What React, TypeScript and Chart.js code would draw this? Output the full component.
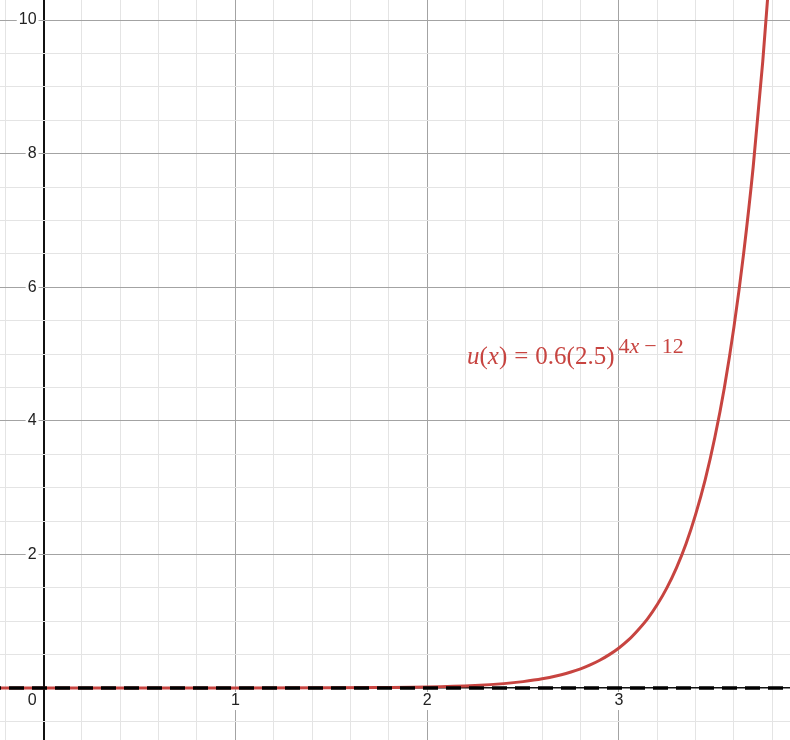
import { useEffect, useRef } from "react";
import { Chart, registerables } from "chart.js";

Chart.register(...registerables);

// visible window of the graph
const X_MIN = -0.227;
const X_MAX = 3.892;
const Y_MIN = -0.778;
const Y_MAX = 10.3;

// u(x)
const curveX = [-0.3, 0.5, 1, 1.5, 1.75, 2, 2.25, 2.4, 2.5, 2.6, 2.7, 2.75, 2.8, 2.85, 2.9, 2.95, 3, 3.05, 3.1, 3.15, 3.2, 3.25, 3.3, 3.35, 3.4, 3.45, 3.5, 3.55, 3.6, 3.65, 3.7, 3.75, 3.8];
const curveY = [0, 0, 0, 0.004, 0.008, 0.015, 0.038, 0.066, 0.096, 0.138, 0.2, 0.24, 0.288, 0.346, 0.416, 0.5, 0.6, 0.72, 0.87, 1.04, 1.25, 1.5, 1.8, 2.16, 2.6, 3.12, 3.75, 4.5, 5.41, 6.5, 7.8, 9.38, 11.26];

// dashed horizontal asymptote
const asymptoteX = [-0.3, 4];
const asymptoteY = [0, 0];

const xTickValues = [1, 2, 3];
const yTickValues = [2, 4, 6, 8, 10];

const RED = "#c74440";
const isMultiple = (v: number, m: number) => Math.abs(v / m - Math.round(v / m)) < 1e-6;

const labelPlugin = {
  id: "desmosLabels",
  afterDatasetsDraw(chart: any) {
    const { ctx } = chart;
    const xs = chart.scales.x;
    const ys = chart.scales.y;
    const x0 = xs.getPixelForValue(0);
    const y0 = ys.getPixelForValue(0);

    ctx.save();
    ctx.font = "16px 'Liberation Sans', Arial, sans-serif";
    ctx.textBaseline = "middle";
    const box = (cx: number, cy: number, w: number) => {
      ctx.fillStyle = "#fff";
      ctx.fillRect(cx - w / 2 - 2, cy - 9, w + 4, 18);
    };

    ctx.textAlign = "center";
    for (const v of xTickValues) {
      const px = xs.getPixelForValue(v);
      const t = String(v);
      const w = ctx.measureText(t).width;
      box(px, y0 + 13, w);
      ctx.fillStyle = "#222";
      ctx.fillText(t, px, y0 + 13);
    }

    ctx.textAlign = "right";
    for (const v of yTickValues) {
      const py = ys.getPixelForValue(v);
      const t = String(v);
      const w = ctx.measureText(t).width;
      box(x0 - 7 - w / 2, py, w);
      ctx.fillStyle = "#222";
      ctx.fillText(t, x0 - 7, py);
    }
    const w0 = ctx.measureText("0").width;
    box(x0 - 7 - w0 / 2, y0 + 13, w0);
    ctx.fillStyle = "#222";
    ctx.fillText("0", x0 - 7, y0 + 13);

    // equation label
    ctx.fillStyle = RED;
    ctx.textAlign = "left";
    ctx.textBaseline = "alphabetic";
    const main = "25px 'Liberation Serif', 'Times New Roman', serif";
    const ital = "italic 25px 'Liberation Serif', 'Times New Roman', serif";
    const sup = "22px 'Liberation Serif', 'Times New Roman', serif";
    const supI = "italic 22px 'Liberation Serif', 'Times New Roman', serif";
    let cx = 467;
    const base = 364;
    const put = (t: string, font: string, yb: number, gap = 0) => {
      ctx.font = font;
      ctx.fillText(t, cx, yb);
      cx += ctx.measureText(t).width + gap;
    };
    put("u", ital, base);
    put("(", main, base);
    put("x", ital, base);
    put(")", main, base, 7);
    put("=", main, base, 7);
    put("0.6(2.5)", main, base, 4);
    const sb = 353;
    put("4", sup, sb);
    put("x", supI, sb, 5);
    put("\u2212", sup, sb, 5);
    put("12", sup, sb);
    ctx.restore();
  },
};

export default function App() {
  const canvasRef = useRef<HTMLCanvasElement>(null);

  useEffect(() => {
    document.body.style.margin = "0";
    if (!canvasRef.current) return;
    const chart = new Chart(canvasRef.current, {
      type: "line",
      data: {
        datasets: [
          {
            label: "asymptote",
            data: asymptoteX.map((x, i) => ({ x, y: asymptoteY[i] })),
            borderColor: "#000",
            borderWidth: 3.5,
            borderDash: [15, 8],
            pointRadius: 0,
          },
          {
            label: "u(x)",
            data: curveX.map((x, i) => ({ x, y: curveY[i] })),
            borderColor: RED,
            borderWidth: 3,
            pointRadius: 0,
            cubicInterpolationMode: "monotone",
          },
        ],
      },
      options: {
        animation: false,
        responsive: true,
        maintainAspectRatio: false,
        layout: { padding: 0 },
        plugins: { legend: { display: false }, tooltip: { enabled: false } },
        scales: {
          x: {
            type: "linear",
            min: X_MIN,
            max: X_MAX,
            border: { display: false },
            ticks: { display: false, stepSize: 0.2, includeBounds: false, autoSkip: false, maxTicksLimit: 1000 },
            grid: {
              drawTicks: false,
              color: (c: any) => (isMultiple(c.tick.value, 1) ? (Math.abs(c.tick.value) < 1e-6 ? "#111" : "#a3a3a3") : "#e4e4e4"),
              lineWidth: (c: any) => (Math.abs(c.tick.value) < 1e-6 ? 2 : 1),
            },
          },
          y: {
            type: "linear",
            min: Y_MIN,
            max: Y_MAX,
            border: { display: false },
            ticks: { display: false, stepSize: 0.5, includeBounds: false, autoSkip: false, maxTicksLimit: 1000 },
            grid: {
              drawTicks: false,
              color: (c: any) => (isMultiple(c.tick.value, 2) ? (Math.abs(c.tick.value) < 1e-6 ? "#111" : "#a3a3a3") : "#e4e4e4"),
              lineWidth: (c: any) => (Math.abs(c.tick.value) < 1e-6 ? 1.5 : 1),
            },
          },
        },
      },
      plugins: [labelPlugin],
    });
    return () => chart.destroy();
  }, []);

  return (
    <div style={{ position: "relative", width: 790, height: 740, background: "#fff" }}>
      <canvas ref={canvasRef} />
    </div>
  );
}
